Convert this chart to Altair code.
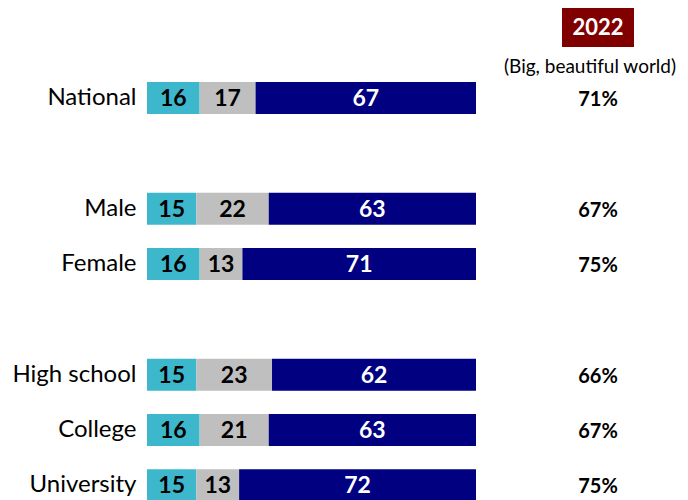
import altair as alt
import pandas as pd

groups = ["National", "Male", "Female", "High school", "College", "University"]
neg = [16, 15, 16, 15, 16, 15]
neutral = [17, 22, 13, 23, 21, 13]
pos = [67, 63, 71, 62, 63, 72]
pct2022 = ["71%", "67%", "75%", "66%", "67%", "75%"]
row_order = ["National", " ", "Male", "Female", "  ", "High school", "College", "University"]
seg_names = ["a", "b", "c"]
seg_colors = ["#3db7cc", "#bfbfbf", "#000080"]
seg_text = ["black", "black", "white"]
header_year = "2022"
header_sub = "(Big, beautiful world)"

FONT = "Lato"

rows = []
for i, g in enumerate(groups):
    for j, (s, v) in enumerate(zip(seg_names, [neg[i], neutral[i], pos[i]])):
        rows.append({"group": g, "seg": s, "order": j, "value": v, "tc": seg_text[j]})
df = pd.DataFrame(rows)
pdf = pd.DataFrame({"group": groups, "pct": pct2022})

yscale = alt.Scale(domain=row_order, range=[74, 493.3], paddingInner=0.4217, paddingOuter=0)
yenc = alt.Y("group:N", scale=yscale, sort=row_order,
             axis=alt.Axis(title=None, ticks=False, domain=False, grid=False, labelFontSize=24,
                           labelFont=FONT, labelColor="black", labelPadding=11))
xscale = alt.Scale(domain=[0, 100], nice=False, zero=True)

base = alt.Chart(df).transform_stack(
    stack="value", groupby=["group"], sort=[alt.SortField("order")], as_=["x0", "x1"]
).transform_calculate(mid="(datum.x0 + datum.x1) / 2")

bars = base.mark_bar(size=32).encode(
    y=yenc,
    x=alt.X("x0:Q", scale=xscale, axis=None),
    x2="x1:Q",
    color=alt.Color("seg:N", scale=alt.Scale(domain=seg_names, range=seg_colors), legend=None),
)

labels = base.mark_text(font=FONT, fontSize=23, fontWeight="bold", baseline="middle", dy=1).encode(
    y=alt.Y("group:N", scale=yscale, sort=row_order),
    x=alt.X("mid:Q", scale=xscale),
    text=alt.Text("value:Q"),
    color=alt.Color("tc:N", scale=None),
)

pcts = alt.Chart(pdf).mark_text(font=FONT, fontSize=20, fontWeight="bold", baseline="middle", color="black", dy=2).encode(
    y=alt.Y("group:N", scale=yscale, sort=row_order),
    x=alt.value(451),
    text="pct:N",
)

hdr = pd.DataFrame({"year": [header_year], "sub": [header_sub]})
box = alt.Chart(hdr).mark_rect(color="#800000").encode(
    x=alt.value(415), x2=alt.value(487), y=alt.value(-1), y2=alt.value(39)
)
year = alt.Chart(hdr).mark_text(font=FONT, fontSize=22, fontWeight="bold", color="white", baseline="middle").encode(
    x=alt.value(451), y=alt.value(20), text="year:N"
)
sub = alt.Chart(hdr).mark_text(font=FONT, fontSize=19, color="black", baseline="middle").encode(
    x=alt.value(443), y=alt.value(59), text="sub:N"
)

chart = alt.layer(bars, labels, pcts, box, year, sub).properties(
    width=329, height=492,
    background="white",
    autosize=alt.AutoSizeParams(type="none"),
    padding={"left": 139, "right": 204, "top": 0, "bottom": 0},
).configure_view(stroke=None)

chart.save("out.html", embed_options={"renderer": "svg", "actions": False})
